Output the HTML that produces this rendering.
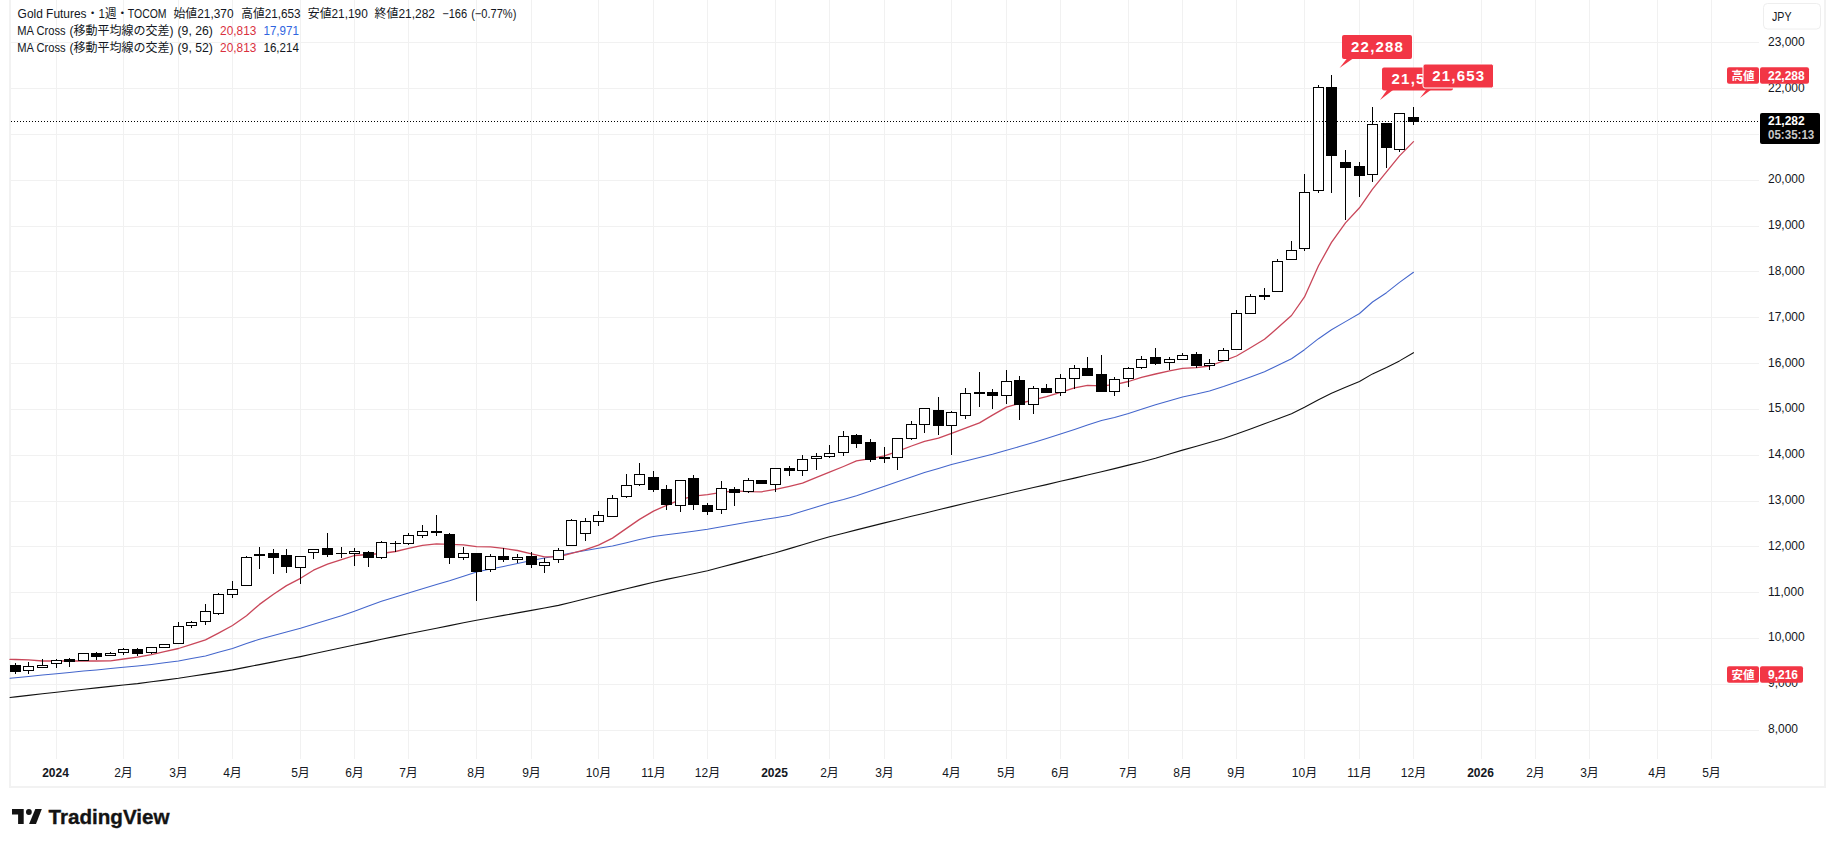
<!DOCTYPE html>
<html><head><meta charset="utf-8"><title>Gold Futures chart</title>
<style>
html,body{margin:0;padding:0;background:#fff;}
body{width:1831px;height:845px;position:relative;overflow:hidden;}
</style></head>
<body>
<svg width="1831" height="845" viewBox="0 0 1831 845" style="position:absolute;left:0;top:0">
<g fill="#f2f2f2"><rect x="9" y="0" width="2" height="788"/><rect x="1824" y="0" width="2" height="788"/><rect x="9" y="786" width="1817" height="2"/></g>
<g stroke="#f1f1f1" stroke-width="1" shape-rendering="crispEdges">
<line x1="11" y1="730.5" x2="1759" y2="730.5"/>
<line x1="11" y1="684.5" x2="1759" y2="684.5"/>
<line x1="11" y1="638.5" x2="1759" y2="638.5"/>
<line x1="11" y1="592.5" x2="1759" y2="592.5"/>
<line x1="11" y1="546.5" x2="1759" y2="546.5"/>
<line x1="11" y1="501.5" x2="1759" y2="501.5"/>
<line x1="11" y1="455.5" x2="1759" y2="455.5"/>
<line x1="11" y1="409.5" x2="1759" y2="409.5"/>
<line x1="11" y1="363.5" x2="1759" y2="363.5"/>
<line x1="11" y1="317.5" x2="1759" y2="317.5"/>
<line x1="11" y1="271.5" x2="1759" y2="271.5"/>
<line x1="11" y1="226.5" x2="1759" y2="226.5"/>
<line x1="11" y1="180.5" x2="1759" y2="180.5"/>
<line x1="11" y1="134.5" x2="1759" y2="134.5"/>
<line x1="11" y1="88.5" x2="1759" y2="88.5"/>
<line x1="11" y1="42.5" x2="1759" y2="42.5"/>
<line x1="56.5" y1="0" x2="56.5" y2="759"/>
<line x1="123.5" y1="0" x2="123.5" y2="759"/>
<line x1="178.5" y1="0" x2="178.5" y2="759"/>
<line x1="232.5" y1="0" x2="232.5" y2="759"/>
<line x1="300.5" y1="0" x2="300.5" y2="759"/>
<line x1="354.5" y1="0" x2="354.5" y2="759"/>
<line x1="408.5" y1="0" x2="408.5" y2="759"/>
<line x1="476.5" y1="0" x2="476.5" y2="759"/>
<line x1="531.5" y1="0" x2="531.5" y2="759"/>
<line x1="598.5" y1="0" x2="598.5" y2="759"/>
<line x1="653.5" y1="0" x2="653.5" y2="759"/>
<line x1="707.5" y1="0" x2="707.5" y2="759"/>
<line x1="775.5" y1="0" x2="775.5" y2="759"/>
<line x1="829.5" y1="0" x2="829.5" y2="759"/>
<line x1="884.5" y1="0" x2="884.5" y2="759"/>
<line x1="951.5" y1="0" x2="951.5" y2="759"/>
<line x1="1006.5" y1="0" x2="1006.5" y2="759"/>
<line x1="1060.5" y1="0" x2="1060.5" y2="759"/>
<line x1="1128.5" y1="0" x2="1128.5" y2="759"/>
<line x1="1182.5" y1="0" x2="1182.5" y2="759"/>
<line x1="1236.5" y1="0" x2="1236.5" y2="759"/>
<line x1="1304.5" y1="0" x2="1304.5" y2="759"/>
<line x1="1359.5" y1="0" x2="1359.5" y2="759"/>
<line x1="1413.5" y1="0" x2="1413.5" y2="759"/>
<line x1="1481.5" y1="0" x2="1481.5" y2="759"/>
<line x1="1535.5" y1="0" x2="1535.5" y2="759"/>
<line x1="1589.5" y1="0" x2="1589.5" y2="759"/>
<line x1="1657.5" y1="0" x2="1657.5" y2="759"/>
<line x1="1711.5" y1="0" x2="1711.5" y2="759"/>
</g>
<g fill="none" stroke-linejoin="round" stroke-linecap="round">
<path d="M10.0,697.5 L15.5,696.9 L28.5,695.4 L42.5,693.8 L56.5,692.3 L69.5,690.8 L83.5,689.2 L96.5,687.9 L110.5,686.4 L123.5,685.0 L137.5,683.6 L151.5,681.8 L164.5,680.1 L178.5,678.3 L191.5,676.2 L205.5,674.1 L218.5,672.1 L232.5,669.9 L246.5,667.1 L259.5,664.6 L273.5,661.9 L286.5,659.3 L300.5,656.6 L313.5,653.8 L327.5,650.8 L341.5,647.8 L354.5,645.0 L368.5,642.1 L381.5,639.3 L395.5,636.4 L408.5,633.7 L422.5,631.0 L436.5,628.2 L449.5,625.6 L463.5,622.8 L476.5,620.3 L490.5,617.7 L503.5,615.4 L517.5,612.9 L531.5,610.4 L544.5,608.0 L558.5,605.4 L571.5,602.2 L585.5,598.7 L598.5,595.5 L612.5,592.1 L626.5,588.7 L639.5,585.6 L653.5,582.2 L666.5,579.4 L680.5,576.5 L693.5,573.7 L707.5,570.7 L721.5,567.0 L734.5,563.6 L748.5,559.9 L761.5,556.4 L775.5,552.7 L789.5,548.6 L802.5,544.7 L816.5,540.5 L829.5,536.7 L843.5,533.2 L856.5,529.9 L870.5,526.4 L884.5,522.9 L897.5,519.7 L911.5,516.3 L924.5,513.2 L938.5,509.7 L951.5,506.6 L965.5,503.3 L979.5,500.0 L992.5,497.0 L1006.5,493.7 L1019.5,490.7 L1033.5,487.5 L1046.5,484.6 L1060.5,481.3 L1074.5,478.1 L1087.5,475.0 L1101.5,471.7 L1114.5,468.6 L1128.5,465.1 L1141.5,462.0 L1155.5,458.2 L1169.5,454.0 L1182.5,450.1 L1196.5,446.2 L1209.5,442.5 L1223.5,438.5 L1236.5,434.1 L1250.5,429.0 L1264.5,423.8 L1277.5,419.0 L1291.5,413.8 L1304.5,407.3 L1318.5,399.7 L1331.5,393.3 L1345.5,387.2 L1359.5,381.5 L1372.5,373.9 L1386.5,367.4 L1399.5,360.9 L1413.5,352.7" stroke="#111" stroke-width="1.1"/>
<path d="M10.0,678.2 L15.5,677.7 L28.5,676.4 L42.5,675.0 L56.5,673.7 L69.5,672.4 L83.5,671.1 L96.5,669.9 L110.5,668.6 L123.5,667.3 L137.5,666.0 L151.5,664.4 L164.5,662.8 L178.5,661.1 L191.5,658.6 L205.5,655.9 L218.5,652.3 L232.5,648.4 L246.5,643.6 L259.5,639.2 L273.5,635.5 L286.5,632.1 L300.5,628.3 L313.5,624.3 L327.5,620.1 L341.5,615.8 L354.5,611.2 L368.5,606.0 L381.5,601.3 L395.5,597.0 L408.5,593.0 L422.5,588.8 L436.5,584.6 L449.5,580.8 L463.5,576.3 L476.5,572.1 L490.5,569.1 L503.5,566.4 L517.5,563.4 L531.5,560.4 L544.5,558.1 L558.5,555.5 L571.5,553.1 L585.5,550.4 L598.5,548.2 L612.5,545.9 L626.5,542.7 L639.5,539.5 L653.5,536.5 L666.5,534.8 L680.5,533.1 L693.5,531.3 L707.5,529.3 L721.5,526.8 L734.5,524.4 L748.5,522.1 L761.5,519.9 L775.5,517.7 L789.5,515.2 L802.5,511.3 L816.5,507.0 L829.5,503.0 L843.5,499.4 L856.5,495.7 L870.5,491.0 L884.5,486.3 L897.5,481.8 L911.5,477.0 L924.5,472.6 L938.5,468.4 L951.5,464.5 L965.5,461.0 L979.5,457.5 L992.5,454.3 L1006.5,450.3 L1019.5,446.6 L1033.5,442.6 L1046.5,438.5 L1060.5,434.1 L1074.5,429.4 L1087.5,425.1 L1101.5,420.6 L1114.5,417.4 L1128.5,413.5 L1141.5,409.3 L1155.5,404.8 L1169.5,400.8 L1182.5,397.1 L1196.5,394.1 L1209.5,391.0 L1223.5,386.5 L1236.5,382.0 L1250.5,376.9 L1264.5,371.8 L1277.5,365.5 L1291.5,358.7 L1304.5,349.7 L1318.5,338.7 L1331.5,329.7 L1345.5,321.6 L1359.5,313.5 L1372.5,302.0 L1386.5,292.7 L1399.5,282.4 L1413.5,272.3" stroke="#4466cc" stroke-width="1.05"/>
<path d="M10.0,659.4 L15.5,659.5 L28.5,659.9 L42.5,661.0 L56.5,661.0 L69.5,661.0 L83.5,661.0 L96.5,661.0 L110.5,660.8 L123.5,659.0 L137.5,657.2 L151.5,654.6 L164.5,651.7 L178.5,648.5 L191.5,644.4 L205.5,639.9 L218.5,633.1 L232.5,625.5 L246.5,615.7 L259.5,604.4 L273.5,594.3 L286.5,585.6 L300.5,578.3 L313.5,570.2 L327.5,564.2 L341.5,559.6 L354.5,555.5 L368.5,554.5 L381.5,553.5 L395.5,551.5 L408.5,548.4 L422.5,545.3 L436.5,543.9 L449.5,544.3 L463.5,544.8 L476.5,546.7 L490.5,546.8 L503.5,548.4 L517.5,550.5 L531.5,553.9 L544.5,556.8 L558.5,556.8 L571.5,553.4 L585.5,549.6 L598.5,545.2 L612.5,538.1 L626.5,528.4 L639.5,519.4 L653.5,511.1 L666.5,505.3 L680.5,499.7 L693.5,496.1 L707.5,494.6 L721.5,492.3 L734.5,490.9 L748.5,491.6 L761.5,491.8 L775.5,489.4 L789.5,486.3 L802.5,483.2 L816.5,477.3 L829.5,472.2 L843.5,466.5 L856.5,460.9 L870.5,458.6 L884.5,455.8 L897.5,451.3 L911.5,446.0 L924.5,441.3 L938.5,438.2 L951.5,433.4 L965.5,428.1 L979.5,422.9 L992.5,415.1 L1006.5,407.1 L1019.5,403.5 L1033.5,399.9 L1046.5,396.7 L1060.5,392.4 L1074.5,387.8 L1087.5,385.4 L1101.5,385.8 L1114.5,384.7 L1128.5,381.5 L1141.5,377.3 L1155.5,374.0 L1169.5,370.9 L1182.5,368.3 L1196.5,367.7 L1209.5,366.0 L1223.5,360.9 L1236.5,356.0 L1250.5,347.8 L1264.5,339.3 L1277.5,328.0 L1291.5,315.5 L1304.5,296.9 L1318.5,265.7 L1331.5,242.4 L1345.5,222.9 L1359.5,207.8 L1372.5,189.1 L1386.5,171.8 L1399.5,155.9 L1413.5,141.6" stroke="#c9475a" stroke-width="1.3"/>
</g>
<g shape-rendering="crispEdges">
<rect x="15" y="663" width="1" height="11" fill="#000"/>
<rect x="10" y="665" width="11" height="7" fill="#000"/>
<rect x="28" y="662" width="1" height="12" fill="#000"/>
<rect x="23" y="666" width="11" height="5" fill="#000"/>
<rect x="24" y="667" width="9" height="3" fill="#fff"/>
<rect x="42" y="659" width="1" height="9" fill="#000"/>
<rect x="37" y="665" width="11" height="3" fill="#000"/>
<rect x="38" y="666" width="9" height="1" fill="#fff"/>
<rect x="56" y="659" width="1" height="9" fill="#000"/>
<rect x="51" y="660" width="11" height="4" fill="#000"/>
<rect x="52" y="661" width="9" height="2" fill="#fff"/>
<rect x="69" y="658" width="1" height="9" fill="#000"/>
<rect x="64" y="659" width="11" height="3" fill="#000"/>
<rect x="83" y="653" width="1" height="8" fill="#000"/>
<rect x="78" y="653" width="11" height="8" fill="#000"/>
<rect x="79" y="654" width="9" height="6" fill="#fff"/>
<rect x="96" y="652" width="1" height="8" fill="#000"/>
<rect x="91" y="653" width="11" height="4" fill="#000"/>
<rect x="110" y="652" width="1" height="4" fill="#000"/>
<rect x="105" y="653" width="11" height="3" fill="#000"/>
<rect x="106" y="654" width="9" height="1" fill="#fff"/>
<rect x="123" y="648" width="1" height="7" fill="#000"/>
<rect x="118" y="649" width="11" height="4" fill="#000"/>
<rect x="119" y="650" width="9" height="2" fill="#fff"/>
<rect x="137" y="648" width="1" height="8" fill="#000"/>
<rect x="132" y="649" width="11" height="5" fill="#000"/>
<rect x="151" y="647" width="1" height="7" fill="#000"/>
<rect x="146" y="647" width="11" height="6" fill="#000"/>
<rect x="147" y="648" width="9" height="4" fill="#fff"/>
<rect x="164" y="644" width="1" height="4" fill="#000"/>
<rect x="159" y="644" width="11" height="4" fill="#000"/>
<rect x="160" y="645" width="9" height="2" fill="#fff"/>
<rect x="178" y="622" width="1" height="22" fill="#000"/>
<rect x="173" y="626" width="11" height="18" fill="#000"/>
<rect x="174" y="627" width="9" height="16" fill="#fff"/>
<rect x="191" y="621" width="1" height="7" fill="#000"/>
<rect x="186" y="622" width="11" height="4" fill="#000"/>
<rect x="187" y="623" width="9" height="2" fill="#fff"/>
<rect x="205" y="604" width="1" height="21" fill="#000"/>
<rect x="200" y="611" width="11" height="11" fill="#000"/>
<rect x="201" y="612" width="9" height="9" fill="#fff"/>
<rect x="218" y="593" width="1" height="22" fill="#000"/>
<rect x="213" y="594" width="11" height="20" fill="#000"/>
<rect x="214" y="595" width="9" height="18" fill="#fff"/>
<rect x="232" y="581" width="1" height="17" fill="#000"/>
<rect x="227" y="589" width="11" height="6" fill="#000"/>
<rect x="228" y="590" width="9" height="4" fill="#fff"/>
<rect x="246" y="556" width="1" height="30" fill="#000"/>
<rect x="241" y="557" width="11" height="29" fill="#000"/>
<rect x="242" y="558" width="9" height="27" fill="#fff"/>
<rect x="259" y="547" width="1" height="22" fill="#000"/>
<rect x="254" y="554" width="11" height="2" fill="#000"/>
<rect x="273" y="549" width="1" height="25" fill="#000"/>
<rect x="268" y="553" width="11" height="5" fill="#000"/>
<rect x="286" y="549" width="1" height="24" fill="#000"/>
<rect x="281" y="555" width="11" height="12" fill="#000"/>
<rect x="300" y="556" width="1" height="28" fill="#000"/>
<rect x="295" y="556" width="11" height="12" fill="#000"/>
<rect x="296" y="557" width="9" height="10" fill="#fff"/>
<rect x="313" y="549" width="1" height="10" fill="#000"/>
<rect x="308" y="549" width="11" height="4" fill="#000"/>
<rect x="309" y="550" width="9" height="2" fill="#fff"/>
<rect x="327" y="533" width="1" height="24" fill="#000"/>
<rect x="322" y="548" width="11" height="7" fill="#000"/>
<rect x="341" y="547" width="1" height="11" fill="#000"/>
<rect x="336" y="553" width="11" height="1" fill="#000"/>
<rect x="354" y="548" width="1" height="18" fill="#000"/>
<rect x="349" y="551" width="11" height="3" fill="#000"/>
<rect x="350" y="552" width="9" height="1" fill="#fff"/>
<rect x="368" y="551" width="1" height="16" fill="#000"/>
<rect x="363" y="552" width="11" height="6" fill="#000"/>
<rect x="381" y="541" width="1" height="18" fill="#000"/>
<rect x="376" y="542" width="11" height="16" fill="#000"/>
<rect x="377" y="543" width="9" height="14" fill="#fff"/>
<rect x="395" y="541" width="1" height="11" fill="#000"/>
<rect x="390" y="543" width="11" height="1" fill="#000"/>
<rect x="408" y="533" width="1" height="12" fill="#000"/>
<rect x="403" y="535" width="11" height="9" fill="#000"/>
<rect x="404" y="536" width="9" height="7" fill="#fff"/>
<rect x="422" y="525" width="1" height="13" fill="#000"/>
<rect x="417" y="531" width="11" height="5" fill="#000"/>
<rect x="418" y="532" width="9" height="3" fill="#fff"/>
<rect x="436" y="515" width="1" height="21" fill="#000"/>
<rect x="431" y="531" width="11" height="2" fill="#000"/>
<rect x="449" y="533" width="1" height="31" fill="#000"/>
<rect x="444" y="534" width="11" height="24" fill="#000"/>
<rect x="463" y="547" width="1" height="13" fill="#000"/>
<rect x="458" y="553" width="11" height="5" fill="#000"/>
<rect x="459" y="554" width="9" height="3" fill="#fff"/>
<rect x="476" y="553" width="1" height="48" fill="#000"/>
<rect x="471" y="553" width="11" height="19" fill="#000"/>
<rect x="490" y="554" width="1" height="18" fill="#000"/>
<rect x="485" y="556" width="11" height="14" fill="#000"/>
<rect x="486" y="557" width="9" height="12" fill="#fff"/>
<rect x="503" y="548" width="1" height="14" fill="#000"/>
<rect x="498" y="556" width="11" height="4" fill="#000"/>
<rect x="517" y="554" width="1" height="9" fill="#000"/>
<rect x="512" y="557" width="11" height="3" fill="#000"/>
<rect x="513" y="558" width="9" height="1" fill="#fff"/>
<rect x="531" y="552" width="1" height="16" fill="#000"/>
<rect x="526" y="556" width="11" height="9" fill="#000"/>
<rect x="544" y="558" width="1" height="15" fill="#000"/>
<rect x="539" y="562" width="11" height="4" fill="#000"/>
<rect x="540" y="563" width="9" height="2" fill="#fff"/>
<rect x="558" y="548" width="1" height="15" fill="#000"/>
<rect x="553" y="550" width="11" height="10" fill="#000"/>
<rect x="554" y="551" width="9" height="8" fill="#fff"/>
<rect x="571" y="519" width="1" height="27" fill="#000"/>
<rect x="566" y="520" width="11" height="26" fill="#000"/>
<rect x="567" y="521" width="9" height="24" fill="#fff"/>
<rect x="585" y="518" width="1" height="23" fill="#000"/>
<rect x="580" y="521" width="11" height="13" fill="#000"/>
<rect x="581" y="522" width="9" height="11" fill="#fff"/>
<rect x="598" y="511" width="1" height="15" fill="#000"/>
<rect x="593" y="515" width="11" height="7" fill="#000"/>
<rect x="594" y="516" width="9" height="5" fill="#fff"/>
<rect x="612" y="495" width="1" height="22" fill="#000"/>
<rect x="607" y="498" width="11" height="19" fill="#000"/>
<rect x="608" y="499" width="9" height="17" fill="#fff"/>
<rect x="626" y="474" width="1" height="24" fill="#000"/>
<rect x="621" y="485" width="11" height="12" fill="#000"/>
<rect x="622" y="486" width="9" height="10" fill="#fff"/>
<rect x="639" y="463" width="1" height="23" fill="#000"/>
<rect x="634" y="474" width="11" height="11" fill="#000"/>
<rect x="635" y="475" width="9" height="9" fill="#fff"/>
<rect x="653" y="471" width="1" height="21" fill="#000"/>
<rect x="648" y="477" width="11" height="13" fill="#000"/>
<rect x="666" y="485" width="1" height="25" fill="#000"/>
<rect x="661" y="489" width="11" height="16" fill="#000"/>
<rect x="680" y="480" width="1" height="32" fill="#000"/>
<rect x="675" y="480" width="11" height="26" fill="#000"/>
<rect x="676" y="481" width="9" height="24" fill="#fff"/>
<rect x="693" y="475" width="1" height="35" fill="#000"/>
<rect x="688" y="478" width="11" height="27" fill="#000"/>
<rect x="707" y="503" width="1" height="12" fill="#000"/>
<rect x="702" y="505" width="11" height="7" fill="#000"/>
<rect x="721" y="481" width="1" height="33" fill="#000"/>
<rect x="716" y="488" width="11" height="22" fill="#000"/>
<rect x="717" y="489" width="9" height="20" fill="#fff"/>
<rect x="734" y="487" width="1" height="19" fill="#000"/>
<rect x="729" y="489" width="11" height="4" fill="#000"/>
<rect x="748" y="478" width="1" height="15" fill="#000"/>
<rect x="743" y="480" width="11" height="12" fill="#000"/>
<rect x="744" y="481" width="9" height="10" fill="#fff"/>
<rect x="761" y="480" width="1" height="4" fill="#000"/>
<rect x="756" y="480" width="11" height="4" fill="#000"/>
<rect x="775" y="468" width="1" height="24" fill="#000"/>
<rect x="770" y="468" width="11" height="17" fill="#000"/>
<rect x="771" y="469" width="9" height="15" fill="#fff"/>
<rect x="789" y="466" width="1" height="10" fill="#000"/>
<rect x="784" y="468" width="11" height="3" fill="#000"/>
<rect x="802" y="455" width="1" height="21" fill="#000"/>
<rect x="797" y="459" width="11" height="12" fill="#000"/>
<rect x="798" y="460" width="9" height="10" fill="#fff"/>
<rect x="816" y="453" width="1" height="17" fill="#000"/>
<rect x="811" y="456" width="11" height="3" fill="#000"/>
<rect x="812" y="457" width="9" height="1" fill="#fff"/>
<rect x="829" y="445" width="1" height="13" fill="#000"/>
<rect x="824" y="453" width="11" height="4" fill="#000"/>
<rect x="825" y="454" width="9" height="2" fill="#fff"/>
<rect x="843" y="431" width="1" height="25" fill="#000"/>
<rect x="838" y="436" width="11" height="17" fill="#000"/>
<rect x="839" y="437" width="9" height="15" fill="#fff"/>
<rect x="856" y="434" width="1" height="14" fill="#000"/>
<rect x="851" y="435" width="11" height="9" fill="#000"/>
<rect x="870" y="439" width="1" height="23" fill="#000"/>
<rect x="865" y="442" width="11" height="18" fill="#000"/>
<rect x="884" y="447" width="1" height="16" fill="#000"/>
<rect x="879" y="457" width="11" height="2" fill="#000"/>
<rect x="897" y="438" width="1" height="32" fill="#000"/>
<rect x="892" y="438" width="11" height="20" fill="#000"/>
<rect x="893" y="439" width="9" height="18" fill="#fff"/>
<rect x="911" y="421" width="1" height="19" fill="#000"/>
<rect x="906" y="424" width="11" height="15" fill="#000"/>
<rect x="907" y="425" width="9" height="13" fill="#fff"/>
<rect x="924" y="408" width="1" height="25" fill="#000"/>
<rect x="919" y="408" width="11" height="17" fill="#000"/>
<rect x="920" y="409" width="9" height="15" fill="#fff"/>
<rect x="938" y="397" width="1" height="38" fill="#000"/>
<rect x="933" y="410" width="11" height="16" fill="#000"/>
<rect x="951" y="411" width="1" height="44" fill="#000"/>
<rect x="946" y="412" width="11" height="14" fill="#000"/>
<rect x="947" y="413" width="9" height="12" fill="#fff"/>
<rect x="965" y="388" width="1" height="31" fill="#000"/>
<rect x="960" y="393" width="11" height="23" fill="#000"/>
<rect x="961" y="394" width="9" height="21" fill="#fff"/>
<rect x="979" y="372" width="1" height="35" fill="#000"/>
<rect x="974" y="392" width="11" height="2" fill="#000"/>
<rect x="992" y="389" width="1" height="20" fill="#000"/>
<rect x="987" y="392" width="11" height="4" fill="#000"/>
<rect x="1006" y="370" width="1" height="34" fill="#000"/>
<rect x="1001" y="381" width="11" height="15" fill="#000"/>
<rect x="1002" y="382" width="9" height="13" fill="#fff"/>
<rect x="1019" y="376" width="1" height="44" fill="#000"/>
<rect x="1014" y="380" width="11" height="25" fill="#000"/>
<rect x="1033" y="386" width="1" height="28" fill="#000"/>
<rect x="1028" y="388" width="11" height="17" fill="#000"/>
<rect x="1029" y="389" width="9" height="15" fill="#fff"/>
<rect x="1046" y="384" width="1" height="9" fill="#000"/>
<rect x="1041" y="388" width="11" height="5" fill="#000"/>
<rect x="1060" y="374" width="1" height="22" fill="#000"/>
<rect x="1055" y="378" width="11" height="15" fill="#000"/>
<rect x="1056" y="379" width="9" height="13" fill="#fff"/>
<rect x="1074" y="365" width="1" height="24" fill="#000"/>
<rect x="1069" y="368" width="11" height="11" fill="#000"/>
<rect x="1070" y="369" width="9" height="9" fill="#fff"/>
<rect x="1087" y="357" width="1" height="19" fill="#000"/>
<rect x="1082" y="368" width="11" height="8" fill="#000"/>
<rect x="1101" y="355" width="1" height="37" fill="#000"/>
<rect x="1096" y="374" width="11" height="18" fill="#000"/>
<rect x="1114" y="377" width="1" height="19" fill="#000"/>
<rect x="1109" y="379" width="11" height="13" fill="#000"/>
<rect x="1110" y="380" width="9" height="11" fill="#fff"/>
<rect x="1128" y="367" width="1" height="20" fill="#000"/>
<rect x="1123" y="368" width="11" height="11" fill="#000"/>
<rect x="1124" y="369" width="9" height="9" fill="#fff"/>
<rect x="1141" y="356" width="1" height="13" fill="#000"/>
<rect x="1136" y="359" width="11" height="9" fill="#000"/>
<rect x="1137" y="360" width="9" height="7" fill="#fff"/>
<rect x="1155" y="348" width="1" height="17" fill="#000"/>
<rect x="1150" y="357" width="11" height="7" fill="#000"/>
<rect x="1169" y="357" width="1" height="13" fill="#000"/>
<rect x="1164" y="359" width="11" height="4" fill="#000"/>
<rect x="1165" y="360" width="9" height="2" fill="#fff"/>
<rect x="1182" y="353" width="1" height="7" fill="#000"/>
<rect x="1177" y="355" width="11" height="5" fill="#000"/>
<rect x="1178" y="356" width="9" height="3" fill="#fff"/>
<rect x="1196" y="352" width="1" height="16" fill="#000"/>
<rect x="1191" y="354" width="11" height="12" fill="#000"/>
<rect x="1209" y="359" width="1" height="11" fill="#000"/>
<rect x="1204" y="363" width="11" height="3" fill="#000"/>
<rect x="1205" y="364" width="9" height="1" fill="#fff"/>
<rect x="1223" y="348" width="1" height="13" fill="#000"/>
<rect x="1218" y="350" width="11" height="11" fill="#000"/>
<rect x="1219" y="351" width="9" height="9" fill="#fff"/>
<rect x="1236" y="310" width="1" height="40" fill="#000"/>
<rect x="1231" y="313" width="11" height="37" fill="#000"/>
<rect x="1232" y="314" width="9" height="35" fill="#fff"/>
<rect x="1250" y="294" width="1" height="20" fill="#000"/>
<rect x="1245" y="296" width="11" height="18" fill="#000"/>
<rect x="1246" y="297" width="9" height="16" fill="#fff"/>
<rect x="1264" y="288" width="1" height="12" fill="#000"/>
<rect x="1259" y="295" width="11" height="2" fill="#000"/>
<rect x="1277" y="259" width="1" height="33" fill="#000"/>
<rect x="1272" y="261" width="11" height="31" fill="#000"/>
<rect x="1273" y="262" width="9" height="29" fill="#fff"/>
<rect x="1291" y="241" width="1" height="19" fill="#000"/>
<rect x="1286" y="250" width="11" height="10" fill="#000"/>
<rect x="1287" y="251" width="9" height="8" fill="#fff"/>
<rect x="1304" y="174" width="1" height="77" fill="#000"/>
<rect x="1299" y="192" width="11" height="57" fill="#000"/>
<rect x="1300" y="193" width="9" height="55" fill="#fff"/>
<rect x="1318" y="85" width="1" height="108" fill="#000"/>
<rect x="1313" y="87" width="11" height="104" fill="#000"/>
<rect x="1314" y="88" width="9" height="102" fill="#fff"/>
<rect x="1331" y="75" width="1" height="118" fill="#000"/>
<rect x="1326" y="87" width="11" height="69" fill="#000"/>
<rect x="1345" y="150" width="1" height="70" fill="#000"/>
<rect x="1340" y="162" width="11" height="6" fill="#000"/>
<rect x="1359" y="162" width="1" height="35" fill="#000"/>
<rect x="1354" y="166" width="11" height="10" fill="#000"/>
<rect x="1372" y="107" width="1" height="75" fill="#000"/>
<rect x="1367" y="124" width="11" height="51" fill="#000"/>
<rect x="1368" y="125" width="9" height="49" fill="#fff"/>
<rect x="1386" y="123" width="1" height="45" fill="#000"/>
<rect x="1381" y="123" width="11" height="25" fill="#000"/>
<rect x="1399" y="113" width="1" height="39" fill="#000"/>
<rect x="1394" y="113" width="11" height="37" fill="#000"/>
<rect x="1395" y="114" width="9" height="35" fill="#fff"/>
<rect x="1413" y="107" width="1" height="18" fill="#000"/>
<rect x="1408" y="117" width="11" height="5" fill="#000"/>
</g>
<line x1="11" y1="121.5" x2="1759" y2="121.5" stroke="#000" stroke-width="1" stroke-dasharray="1 2" shape-rendering="crispEdges"/>
<path d="M1347.0,58.5 L1353.0,58.5 L1339.5,68.0 Z" fill="#f23645"/><rect x="1342.0" y="35.0" width="70.0" height="24.0" rx="2" fill="#f23645"/><text x="1377.6" y="52.4" text-anchor="middle" font-family="Liberation Sans, Noto Sans CJK JP, sans-serif" font-weight="bold" font-size="15px" fill="#fff" letter-spacing="1.2">22,288</text>
<path d="M1387.0,90.0 L1393.0,90.0 L1380.0,100.0 Z" fill="#f23645"/><rect x="1382.0" y="67.5" width="71.0" height="23.0" rx="2" fill="#f23645"/><text x="1418.1" y="84.4" text-anchor="middle" font-family="Liberation Sans, Noto Sans CJK JP, sans-serif" font-weight="bold" font-size="15px" fill="#fff" letter-spacing="1.2">21,594</text>
<path d="M1428.0,87.5 L1434.0,87.5 L1420.0,98.0 Z" fill="#f23645"/><rect x="1423.0" y="64.0" width="70.5" height="24.0" rx="2" fill="#f23645" stroke="#fff" stroke-width="1"/><text x="1458.8" y="81.4" text-anchor="middle" font-family="Liberation Sans, Noto Sans CJK JP, sans-serif" font-weight="bold" font-size="15px" fill="#fff" letter-spacing="1.2">21,653</text>
<g font-family="Liberation Sans, sans-serif" font-size="12px" fill="#131722">
<text x="1768" y="732.5">8,000</text>
<text x="1768" y="686.5">9,000</text>
<text x="1768" y="640.5">10,000</text>
<text x="1768" y="595.5">11,000</text>
<text x="1768" y="549.5">12,000</text>
<text x="1768" y="503.5">13,000</text>
<text x="1768" y="457.5">14,000</text>
<text x="1768" y="411.5">15,000</text>
<text x="1768" y="366.5">16,000</text>
<text x="1768" y="320.5">17,000</text>
<text x="1768" y="274.5">18,000</text>
<text x="1768" y="228.5">19,000</text>
<text x="1768" y="182.5">20,000</text>
<text x="1768" y="136.5">21,000</text>
<text x="1768" y="91.5">22,000</text>
<text x="1768" y="45.5">23,000</text>
</g>
<rect x="1727" y="67.2" width="32" height="16.5" rx="2" fill="#f23645"/><rect x="1760" y="67.2" width="49" height="16.5" rx="2" fill="#f23645"/><text x="1743" y="79.6" text-anchor="middle" font-family="Liberation Sans, Noto Sans CJK JP, sans-serif" font-size="11.5px" font-weight="bold" fill="#fff">高値</text><text x="1768" y="79.7" font-family="Liberation Sans, sans-serif" font-size="12px" font-weight="bold" fill="#fff">22,288</text>
<rect x="1727" y="666.2" width="32" height="16.5" rx="2" fill="#f23645"/><rect x="1760" y="666.2" width="43" height="16.5" rx="2" fill="#f23645"/><text x="1743" y="678.7" text-anchor="middle" font-family="Liberation Sans, Noto Sans CJK JP, sans-serif" font-size="11.5px" font-weight="bold" fill="#fff">安値</text><text x="1768" y="678.8" font-family="Liberation Sans, sans-serif" font-size="12px" font-weight="bold" fill="#fff">9,216</text>
<rect x="1760" y="113" width="60" height="31" rx="2" fill="#000"/>
<text x="1768" y="125" font-family="Liberation Sans, sans-serif" font-size="12px" font-weight="bold" fill="#fff">21,282</text>
<text x="1768" y="139" font-family="Liberation Sans, sans-serif" font-size="12px" font-weight="bold" fill="#c8c8c8" textLength="46.3" lengthAdjust="spacingAndGlyphs">05:35:13</text>
<rect x="1763.5" y="3.5" width="57" height="25.5" rx="4" fill="#fff" stroke="#eeeeee" stroke-width="1"/>
<text x="1772" y="21" font-family="Liberation Sans, sans-serif" font-size="12.5px" fill="#131722" textLength="19.5" lengthAdjust="spacingAndGlyphs">JPY</text>
<g font-family="Liberation Sans, Noto Sans CJK JP, sans-serif" font-size="12px" fill="#131722" text-anchor="middle">
<text x="55.5" y="777" font-weight="bold">2024</text>
<text x="123.5" y="777">2月</text>
<text x="178.5" y="777">3月</text>
<text x="232.5" y="777">4月</text>
<text x="300.5" y="777">5月</text>
<text x="354.5" y="777">6月</text>
<text x="408.5" y="777">7月</text>
<text x="476.5" y="777">8月</text>
<text x="531.5" y="777">9月</text>
<text x="598.5" y="777">10月</text>
<text x="653.5" y="777">11月</text>
<text x="707.5" y="777">12月</text>
<text x="774.5" y="777" font-weight="bold">2025</text>
<text x="829.5" y="777">2月</text>
<text x="884.5" y="777">3月</text>
<text x="951.5" y="777">4月</text>
<text x="1006.5" y="777">5月</text>
<text x="1060.5" y="777">6月</text>
<text x="1128.5" y="777">7月</text>
<text x="1182.5" y="777">8月</text>
<text x="1236.5" y="777">9月</text>
<text x="1304.5" y="777">10月</text>
<text x="1359.5" y="777">11月</text>
<text x="1413.5" y="777">12月</text>
<text x="1480.5" y="777" font-weight="bold">2026</text>
<text x="1535.5" y="777">2月</text>
<text x="1589.5" y="777">3月</text>
<text x="1657.5" y="777">4月</text>
<text x="1711.5" y="777">5月</text>
</g>
<text x="17.6" y="18.0" font-family="Liberation Sans, Noto Sans CJK JP, sans-serif" font-size="12.2px" fill="#131722" textLength="69.0" lengthAdjust="spacingAndGlyphs">Gold Futures</text>
<text x="98.6" y="18.0" font-family="Liberation Sans, Noto Sans CJK JP, sans-serif" font-size="12.2px" fill="#131722" textLength="18.0" lengthAdjust="spacingAndGlyphs">1週</text>
<text x="127.8" y="18.0" font-family="Liberation Sans, Noto Sans CJK JP, sans-serif" font-size="12.2px" fill="#131722" textLength="38.8" lengthAdjust="spacingAndGlyphs">TOCOM</text>
<text x="173.5" y="18.0" font-family="Liberation Sans, Noto Sans CJK JP, sans-serif" font-size="12.2px" fill="#131722" textLength="60.0" lengthAdjust="spacingAndGlyphs">始値21,370</text>
<text x="241.3" y="18.0" font-family="Liberation Sans, Noto Sans CJK JP, sans-serif" font-size="12.2px" fill="#131722" textLength="59.3" lengthAdjust="spacingAndGlyphs">高値21,653</text>
<text x="307.8" y="18.0" font-family="Liberation Sans, Noto Sans CJK JP, sans-serif" font-size="12.2px" fill="#131722" textLength="60.0" lengthAdjust="spacingAndGlyphs">安値21,190</text>
<text x="374.5" y="18.0" font-family="Liberation Sans, Noto Sans CJK JP, sans-serif" font-size="12.2px" fill="#131722" textLength="60.5" lengthAdjust="spacingAndGlyphs">終値21,282</text>
<text x="442.2" y="18.0" font-family="Liberation Sans, Noto Sans CJK JP, sans-serif" font-size="12.2px" fill="#131722" textLength="25.0" lengthAdjust="spacingAndGlyphs">−166</text>
<text x="471.2" y="18.0" font-family="Liberation Sans, Noto Sans CJK JP, sans-serif" font-size="12.2px" fill="#131722" textLength="45.2" lengthAdjust="spacingAndGlyphs">(−0.77%)</text>
<text x="92.6" y="18.0" font-family="Liberation Sans, Noto Sans CJK JP, sans-serif" font-size="12.2px" fill="#131722" text-anchor="middle">・</text>
<text x="122.3" y="18.0" font-family="Liberation Sans, Noto Sans CJK JP, sans-serif" font-size="12.2px" fill="#131722" text-anchor="middle">・</text>
<text x="17.3" y="35.0" font-family="Liberation Sans, Noto Sans CJK JP, sans-serif" font-size="12.2px" fill="#131722" textLength="48.3" lengthAdjust="spacingAndGlyphs">MA Cross</text>
<text x="69.5" y="35.0" font-family="Liberation Sans, Noto Sans CJK JP, sans-serif" font-size="12.2px" fill="#131722" textLength="104.0" lengthAdjust="spacingAndGlyphs">(移動平均線の交差)</text>
<text x="177.5" y="35.0" font-family="Liberation Sans, Noto Sans CJK JP, sans-serif" font-size="12.2px" fill="#131722" textLength="35.4" lengthAdjust="spacingAndGlyphs">(9, 26)</text>
<text x="220.1" y="35.0" font-family="Liberation Sans, Noto Sans CJK JP, sans-serif" font-size="12.2px" fill="#d9303e" textLength="36.2" lengthAdjust="spacingAndGlyphs">20,813</text>
<text x="263.5" y="35.0" font-family="Liberation Sans, Noto Sans CJK JP, sans-serif" font-size="12.2px" fill="#2f64e0" textLength="35.4" lengthAdjust="spacingAndGlyphs">17,971</text>
<text x="17.3" y="52.0" font-family="Liberation Sans, Noto Sans CJK JP, sans-serif" font-size="12.2px" fill="#131722" textLength="48.3" lengthAdjust="spacingAndGlyphs">MA Cross</text>
<text x="69.5" y="52.0" font-family="Liberation Sans, Noto Sans CJK JP, sans-serif" font-size="12.2px" fill="#131722" textLength="104.0" lengthAdjust="spacingAndGlyphs">(移動平均線の交差)</text>
<text x="177.5" y="52.0" font-family="Liberation Sans, Noto Sans CJK JP, sans-serif" font-size="12.2px" fill="#131722" textLength="35.4" lengthAdjust="spacingAndGlyphs">(9, 52)</text>
<text x="220.1" y="52.0" font-family="Liberation Sans, Noto Sans CJK JP, sans-serif" font-size="12.2px" fill="#d9303e" textLength="36.2" lengthAdjust="spacingAndGlyphs">20,813</text>
<text x="263.5" y="52.0" font-family="Liberation Sans, Noto Sans CJK JP, sans-serif" font-size="12.2px" fill="#131722" textLength="35.4" lengthAdjust="spacingAndGlyphs">16,214</text>
<g fill="#131313">
<path d="M12,809 H23.7 V824 H18.1 V814.6 H12 Z"/>
<circle cx="28.9" cy="812" r="2.9"/>
<path d="M35.3,809 H41.8 L36,824 H29.1 Z"/>
<text x="48.5" y="824" font-family="Liberation Sans, sans-serif" font-weight="bold" font-size="20px" stroke="#131313" stroke-width="0.35" textLength="121" lengthAdjust="spacingAndGlyphs">TradingView</text>
</g>
</svg>
</body></html>
